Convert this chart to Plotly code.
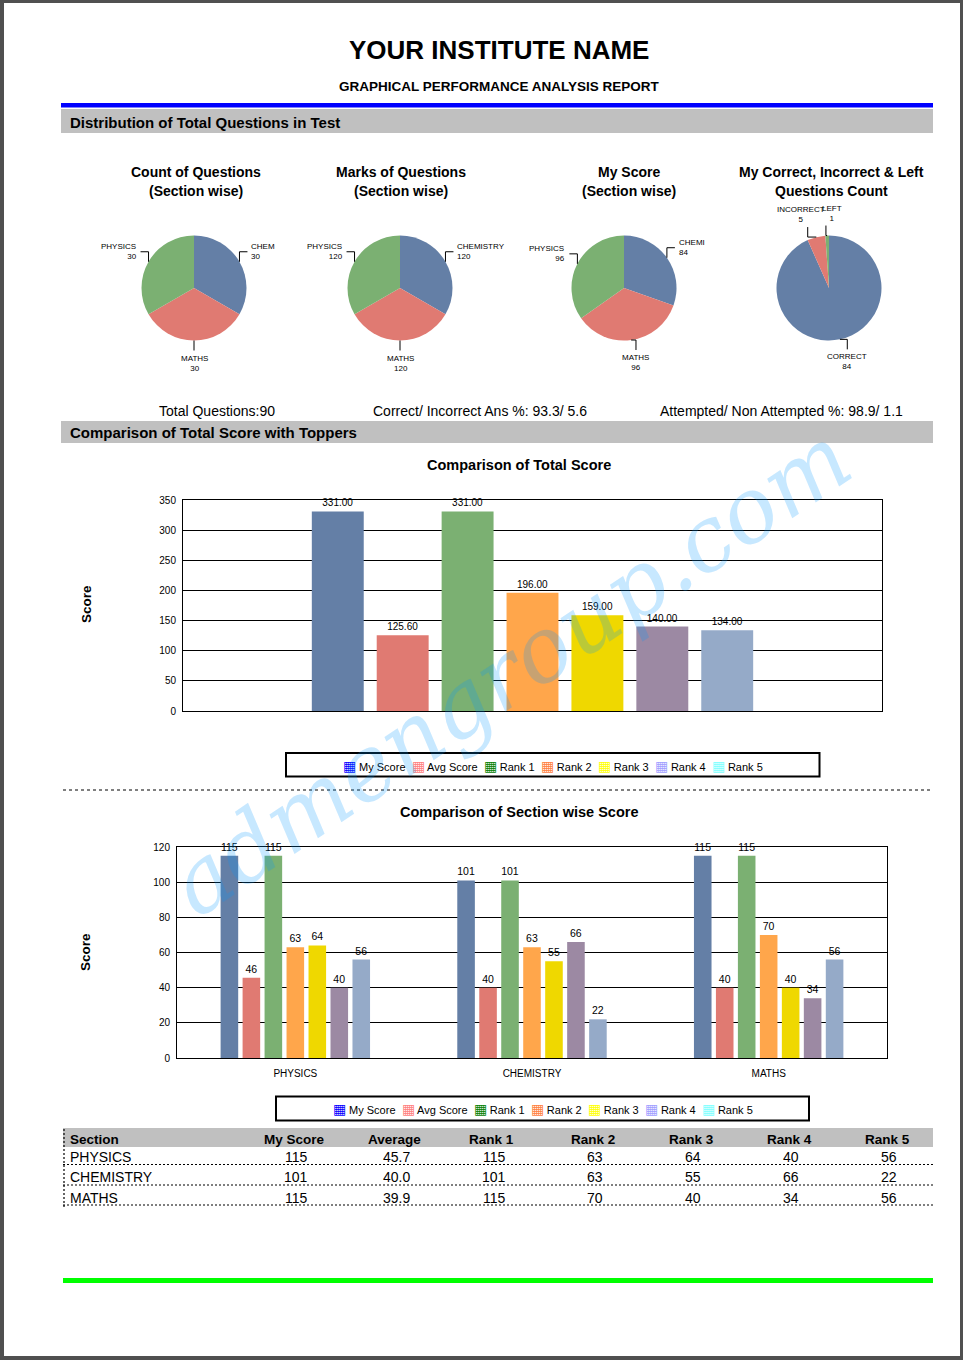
import math
import plotly.graph_objects as go

W, H = 963, 1360


def X(p):
    return p / W


def Y(p):
    return 1 - p / H


# ---------------- data ----------------
pie_sections = ["CHEMISTRY", "MATHS", "PHYSICS"]
question_count = [30, 30, 30]
question_marks = [120, 120, 120]
my_section_score = [84, 96, 96]
answer_labels = ["CORRECT", "INCORRECT", "LEFT"]
answer_counts = [84, 5, 1]
# pie labels as they appear (clipped by the original chart canvas)
pie1_shown = ["CHEM", "MATHS", "PHYSICS"]
pie2_shown = ["CHEMISTRY", "MATHS", "PHYSICS"]
pie3_shown = ["CHEMI", "MATHS", "PHYSICS"]

series_names = ["My Score", "Avg Score", "Rank 1", "Rank 2", "Rank 3", "Rank 4", "Rank 5"]
total_scores = [331.00, 125.60, 331.00, 196.00, 159.00, 140.00, 134.00]

sections = ["PHYSICS", "CHEMISTRY", "MATHS"]
my_score = [115, 101, 115]
avg_score = [45.7, 40.0, 39.9]
rank1_score = [115, 101, 115]
rank2_score = [63, 63, 70]
rank3_score = [64, 55, 40]
rank4_score = [40, 66, 34]
rank5_score = [56, 22, 56]

table_headers = ["Section", "My Score", "Average", "Rank 1", "Rank 2", "Rank 3", "Rank 4", "Rank 5"]
total_ticks = [0, 50, 100, 150, 200, 250, 300, 350]
section_ticks = [0, 20, 40, 60, 80, 100, 120]

stats_text = ["Total Questions:90", "Correct/ Incorrect Ans %: 93.3/ 5.6",
              "Attempted/ Non Attempted %: 98.9/ 1.1"]

# ---------------- styles ----------------
FONT = "Liberation Sans, Arial, sans-serif"
bar_colors = ["#647FA6", "#E07A72", "#7BB072", "#FFA64B", "#EFD800", "#9C89A3", "#95AAC8"]
legend_colors = ["#0000FF", "#FF8080", "#008000", "#FF8040", "#FFFF00", "#A0A0FF", "#80FFFF"]
pie_colors = ["#647FA6", "#E07A72", "#7BB072"]

fig = go.Figure()
annotations = []
shapes = []


def txt(x, y, s, size, bold=False, xanchor="center", yanchor="middle", color="black",
        align="center", angle=0, family=FONT):
    annotations.append(dict(
        x=X(x), y=Y(y), xref="paper", yref="paper", showarrow=False,
        text=f"<b>{s}</b>" if bold else s, xanchor=xanchor, yanchor=yanchor,
        align=align, textangle=angle,
        font=dict(family=family, size=size, color=color)))


def rect(x0, y0, x1, y1, color):
    shapes.append(dict(type="rect", xref="paper", yref="paper", x0=X(x0), x1=X(x1),
                       y0=Y(y1), y1=Y(y0), fillcolor=color, line=dict(width=0),
                       layer="below"))


def hline(x0, x1, y, dash="dot", width=1, color="black"):
    shapes.append(dict(type="line", xref="paper", yref="paper", x0=X(x0), x1=X(x1),
                       y0=Y(y), y1=Y(y), line=dict(color=color, width=width, dash=dash)))


# page
rect(4, 3, 960, 1356, "white")

# header
txt(499, 50, "YOUR INSTITUTE NAME", 26, bold=True)
txt(499, 86, "GRAPHICAL PERFORMANCE ANALYSIS REPORT", 13.5, bold=True)
rect(61, 103, 933, 107.5, "#0000FF")
rect(61, 109, 933, 133, "#C0C0C0")
txt(68, 122, "Distribution of Total Questions in Test", 15, bold=True, xanchor="left")

# pie titles
txt(196, 172, "Count of Questions", 14, bold=True)
txt(196, 191, "(Section wise)", 14, bold=True)
txt(401, 172, "Marks of Questions", 14, bold=True)
txt(401, 191, "(Section wise)", 14, bold=True)
txt(629, 172, "My Score", 14, bold=True)
txt(629, 191, "(Section wise)", 14, bold=True)
txt(831, 172, "My Correct, Incorrect &amp; Left", 14, bold=True)
txt(831, 191, "Questions Count", 14, bold=True)

# pies
PCY, PR = 288, 52.5
pies = [
    (pie_sections, question_count, pie1_shown, 194),
    (pie_sections, question_marks, pie2_shown, 400),
    (pie_sections, my_section_score, pie3_shown, 624),
    (answer_labels, answer_counts, answer_labels, 829),
]
for labels, vals, shown, cx in pies:
    fig.add_trace(go.Pie(
        labels=labels, values=vals, sort=False, direction="clockwise", rotation=0,
        marker=dict(colors=pie_colors, line=dict(width=0)), textinfo="none",
        hoverinfo="label+value", showlegend=False,
        domain=dict(x=[X(cx - PR), X(cx + PR)], y=[Y(PCY + PR), Y(PCY - PR)])))
    total = sum(vals)
    cum = 0
    for v, name in zip(vals, shown):
        th = (cum + v / 2) / total * 2 * math.pi
        cum += v
        s, c = math.sin(th), math.cos(th)
        ex, ey = cx + PR * s, PCY - PR * c
        vdir = -1 if c > 0 else 1
        label = f"{name}<br>{v}"
        if abs(s) < 0.3:
            ax = cx + 88 * s
            endy = ey + 10 * vdir
            path = f"M{X(ex)},{Y(ey)} L{X(ax)},{Y(ey)} L{X(ax)},{Y(endy)}"
            # small nudge keeps the two tiny top labels of the last pie apart
            tx = ax + (-7 if (vdir < 0 and s < -0.1) else (6 if vdir < 0 else 0))
            txt(tx, endy + 1 * vdir, label, 8, yanchor="bottom" if vdir < 0 else "top")
        else:
            sg = 1 if s > 0 else -1
            my = ey + 10 * vdir
            hx = ex + 8 * sg
            path = f"M{X(ex)},{Y(ey)} L{X(ex)},{Y(my)} L{X(hx)},{Y(my)}"
            txt(hx + 2 * sg, my, label, 8, xanchor="left" if sg > 0 else "right",
                align="left" if sg > 0 else "right")
        shapes.append(dict(type="path", xref="paper", yref="paper", path=path,
                           line=dict(color="black", width=1)))

# stats line
txt(217, 411, stats_text[0], 14)
txt(480, 411, stats_text[1], 14)
txt(781, 411, stats_text[2], 14)

# section 2 header
rect(61, 421, 933, 443, "#C0C0C0")
txt(68, 432, "Comparison of Total Score with Toppers", 15, bold=True, xanchor="left")

# chart 1 : total score
txt(519, 465, "Comparison of Total Score", 14.5, bold=True)
txt(86, 604, "Score", 13.5, bold=True, angle=-90)
for i, name in enumerate(series_names):
    fig.add_trace(go.Bar(
        x=["Total"], y=[total_scores[i]], name=name, xaxis="x", yaxis="y",
        marker=dict(color=bar_colors[i], line=dict(width=0)),
        texttemplate="%{y:.2f}", textposition="outside", cliponaxis=False,
        constraintext="none", textfont=dict(family=FONT, size=10, color="black"),
        showlegend=False))


# legend (custom, built from the series names)
def legend_text():
    parts = [f"<span style='color:{c};font-size:14px'>▦</span> {n}"
             for n, c in zip(series_names, legend_colors)]
    return "  ".join(parts)


shapes.append(dict(type="rect", xref="paper", yref="paper", x0=X(286), x1=X(819.5),
                   y0=Y(776.5), y1=Y(753), line=dict(color="black", width=2)))
txt(552.5, 765.5, legend_text(), 11)

# dashed separator
hline(63, 933, 790, dash="3px,3px", width=1)

# chart 2 : section wise
txt(519.5, 812, "Comparison of Section wise Score", 14.5, bold=True)
txt(86, 952, "Score", 13.5, bold=True, angle=-90)
section_series = [my_score, avg_score, rank1_score, rank2_score, rank3_score,
                  rank4_score, rank5_score]
for i, name in enumerate(series_names):
    fig.add_trace(go.Bar(
        x=sections, y=section_series[i], name=name, xaxis="x2", yaxis="y2",
        marker=dict(color=bar_colors[i], line=dict(width=0)),
        texttemplate="%{y:.0f}", textposition="outside", cliponaxis=False,
        constraintext="none", textfont=dict(family=FONT, size=10.5, color="black"),
        showlegend=False))

shapes.append(dict(type="rect", xref="paper", yref="paper", x0=X(276), x1=X(809),
                   y0=Y(1120.5), y1=Y(1096.5), line=dict(color="black", width=2)))
txt(542.5, 1108.5, legend_text(), 11)

# table
rect(63, 1128, 933, 1147, "#C0C0C0")
col_x = [None, 294, 394, 492, 593, 691, 789, 887]
txt(68, 1139, table_headers[0], 13.5, bold=True, xanchor="left")
for j in range(1, len(table_headers)):
    txt(col_x[j], 1139, table_headers[j], 13.5, bold=True)
row_y = [1156.5, 1176.5, 1197.5]
line_y = [1164.5, 1185, 1205]
for r, sec in enumerate(sections):
    vals = [my_score[r], f"{avg_score[r]:.1f}", rank1_score[r], rank2_score[r],
            rank3_score[r], rank4_score[r], rank5_score[r]]
    txt(68, row_y[r], sec, 14, xanchor="left")
    for j, v in enumerate(vals):
        txt(col_x[j + 1] + 2, row_y[r], str(v), 14)
    hline(63, 933, line_y[r], dash="2px,2px", width=1.2)
shapes.append(dict(type="line", xref="paper", yref="paper", x0=X(64), x1=X(64),
                   y0=Y(1207), y1=Y(1128), line=dict(color="black", width=1.2, dash="2px,2px")))

# footer line
rect(63, 1278, 933, 1283, "#00FF00")

# watermark
annotations.append(dict(
    x=X(510), y=Y(670), xref="paper", yref="paper", showarrow=False,
    text="admengroup.com", textangle=-34, xanchor="center", yanchor="middle",
    font=dict(family="DejaVu Serif", size=90, style="italic",
              color="rgba(0,150,255,0.22)")))

axis_common = dict(showline=True, mirror=True, linecolor="black", linewidth=1,
                   zeroline=False, fixedrange=True, automargin=False)

fig.update_layout(
    template="none",
    width=W, height=H, autosize=False,
    margin=dict(l=0, r=0, t=0, b=0, pad=0, autoexpand=False),
    paper_bgcolor="#505050", plot_bgcolor="white",
    barmode="group", bargap=0.35, bargroupgap=0.2,
    showlegend=False,
    font=dict(family=FONT, color="black"),
    xaxis=dict(domain=[X(183), X(882)], anchor="y", showticklabels=False, ticks="",
               showgrid=False, range=[-0.5, 0.5], **axis_common),
    yaxis=dict(domain=[Y(711), Y(500)], anchor="x", range=[0, 350], tickvals=total_ticks,
               showgrid=True, gridcolor="black", gridwidth=1, ticks="",
               tickfont=dict(size=10), ticklabelstandoff=4, **axis_common),
    xaxis2=dict(domain=[X(177), X(887)], anchor="y2", showgrid=False, ticks="",
                range=[-0.5, 2.5], tickfont=dict(size=10), ticklabelstandoff=6,
                **axis_common),
    yaxis2=dict(domain=[Y(1058), Y(847)], anchor="x2", range=[0, 120], tickvals=section_ticks,
                showgrid=True, gridcolor="black", gridwidth=1, ticks="",
                tickfont=dict(size=10), ticklabelstandoff=4, **axis_common),
    annotations=annotations,
    shapes=shapes,
)

fig.write_html(
    "out.html",
    config={"displayModeBar": False},
    post_script=("document.body.style.margin='0px';document.body.style.padding='0px';"
                 "document.body.style.overflow='hidden';"
                 "document.documentElement.style.overflow='hidden';"),
)
